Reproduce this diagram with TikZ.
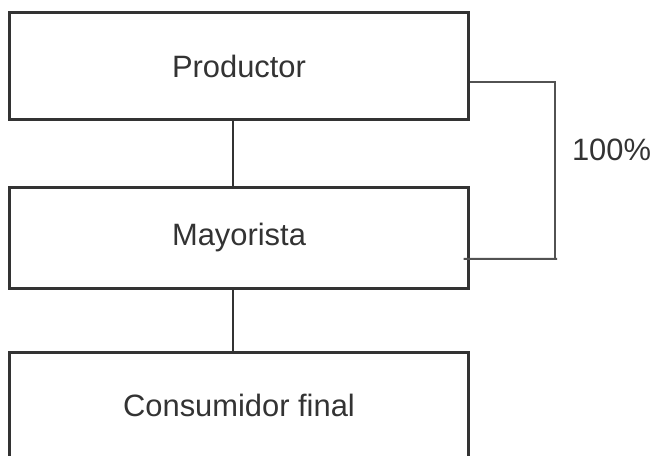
\documentclass[tikz,border=0pt]{standalone}
\usepackage{fontspec}
\setmainfont{Liberation Sans}
\definecolor{inkgray}{HTML}{333333}

\begin{document}
\begin{tikzpicture}[x=1bp,y=-1bp,
   every node/.style={text=inkgray,font=\fontsize{31}{36}\selectfont},
   stage/.style={draw=inkgray,line width=3bp,minimum width=458bp,inner sep=0pt},
   link/.style={draw=inkgray,line width=2.4bp},
   bracket/.style={draw=inkgray!85,line width=2bp}]

\useasboundingbox (0,0) rectangle (656,456);

\node[stage,minimum height=107bp] (prod) at (239,66.5) {Productor};
\node[stage,minimum height=100bp] (may) at (239,238) {Mayorista};
\node[stage,minimum height=106bp] (cons) at (239,405) {Consumidor final};

\draw[link] ([xshift=-6bp]prod.south) -- ([xshift=-6bp]may.north);
\draw[link] ([xshift=-6bp]may.south) -- ([xshift=-6bp]cons.north);

% share bracket
\coordinate (brbot) at (555,259);
\draw[bracket] ([yshift=-15.5bp]prod.east) -| (brbot);
\draw[bracket] ([xshift=-6bp,yshift=-21bp]may.east) -- ([xshift=2bp]brbot);
\node (share) at (611.5,149.5) {100\%};

\end{tikzpicture}
\end{document}
